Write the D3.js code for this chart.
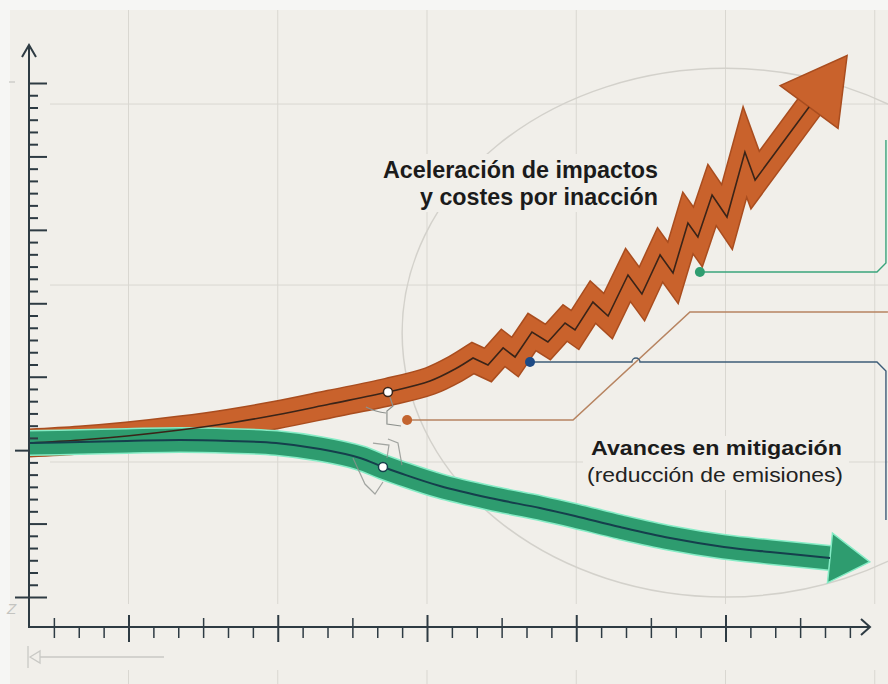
<!DOCTYPE html>
<html>
<head>
<meta charset="utf-8">
<script src="https://cdn.jsdelivr.net/npm/d3@7"></script>
<style>
html, body { margin: 0; padding: 0; background: #f6f6f4; }
svg { display: block; }
</style>
</head>
<body>
<svg id="chart" width="888" height="684"></svg>
<script>
// units: x = minor tick steps from the y axis, y = minor tick steps from the lowest long tick
var impactX = [0, 2.05, 3.94, 6.07, 8.08, 9.93, 12.10, 14.43, 16.12, 17.13, 17.85, 18.45, 19.06, 19.54, 20.22, 20.86, 21.55, 21.95, 22.67, 23.28, 24.08, 24.64, 25.37, 25.89, 26.49, 26.89, 27.46, 28.06, 28.78, 29.19, 31.36];
var impactY = [12.58, 12.83, 13.16, 13.65, 14.22, 14.87, 15.77, 16.75, 17.65, 18.63, 19.53, 18.96, 20.35, 19.61, 21.65, 20.84, 22.39, 21.82, 24.10, 22.96, 26.31, 24.76, 27.95, 26.48, 30.56, 29.42, 32.85, 31.05, 36.36, 34.07, 40.04];
var impactSmooth = 11;   // first points are a smooth curve, then the zigzag
var mitigX = [0, 2.05, 3.94, 6.07, 8.08, 9.93, 11.70, 13.31, 14.23, 14.91, 16.52, 18.53, 20.54, 21.95, 23.76, 25.77, 27.94, 29.79, 32.20];
var mitigY = [12.58, 12.67, 12.75, 12.83, 12.75, 12.58, 12.09, 11.36, 10.62, 10.13, 9.07, 8.09, 7.27, 6.62, 5.72, 4.82, 4.09, 3.68, 3.19];
var impactMarker = 7, mitigMarker = 8;

var impactLabel = ["Aceleración de impactos", "y costes por inacción"];
var mitigLabel = ["Avances en mitigación", "(reducción de emisiones)"];

// leader lines to the right edge
var noteBrown = [[15.20, 14.46], [21.87, 14.46], [26.57, 23.29], [34.53, 23.29]];
var noteBlue = [[20.14, 19.20], [34.09, 19.20], [34.45, 18.47], [34.45, 6.29]];
var noteGreen = [[26.97, 26.56], [34.09, 26.56], [34.45, 27.29], [34.45, 37.34]];
var hopX = 24.40;

var gridX = [4, 10, 16, 22, 28, 34];
var gridY = [40.28, 25.49, 11.03];
var xTickVals = d3.range(1, 34);
var yTickVals = d3.range(0, 43);
var halo = { cx: 28, cy: 21.6, rx: 13, ry: 21.6 };

var svg = d3.select("#chart");
var W = 888, H = 684;
var bg = "#f1efea", axisColor = "#2e3b43";

var x = d3.scaleLinear().domain([0, 34]).range([29, 874.75]);
var y = d3.scaleLinear().domain([0, 42]).range([597, 83]);

svg.append("rect").attr("x", 10).attr("y", 10).attr("width", W - 10).attr("height", H - 10).attr("fill", bg);

// grid
var grid = svg.append("g").attr("stroke", "#d9d7d1").attr("stroke-width", 1);
gridX.forEach(function(v) {
  grid.append("line").attr("x1", x(v)).attr("x2", x(v)).attr("y1", 10).attr("y2", 604);
  grid.append("line").attr("x1", x(v)).attr("x2", x(v)).attr("y1", 670).attr("y2", H);
});
gridY.forEach(function(v) {
  grid.append("line").attr("x1", 50).attr("x2", W).attr("y1", y(v)).attr("y2", y(v));
});

// big faint ellipse
svg.append("ellipse")
  .attr("cx", x(halo.cx)).attr("cy", y(halo.cy))
  .attr("rx", x(halo.cx + halo.rx) - x(halo.cx)).attr("ry", y(0) - y(halo.ry))
  .attr("fill", "none").attr("stroke", "#d3d1cb").attr("stroke-width", 1.5);

// text backgrounds hide grid behind labels
svg.append("rect").attr("x", 378).attr("y", 154).attr("width", 288).attr("height", 58).attr("fill", bg);
svg.append("rect").attr("x", 583).attr("y", 436).attr("width", 266).attr("height", 54).attr("fill", bg);

function arrowPaths(xs, ys, smoothN) {
  var pts = xs.map(function(v, i) { return [x(v), y(ys[i])]; });
  var n = smoothN || pts.length;
  var d = d3.line().curve(d3.curveCatmullRom)(pts.slice(0, n));
  if (n < pts.length) d += d3.line()(pts.slice(n - 1)).replace(/^M[^L]*/, "");
  return { d: d, pts: pts };
}

function headPoints(pts, len, hw) {
  var b = pts[pts.length - 1], p = pts[pts.length - 2];
  var dx = b[0] - p[0], dy = b[1] - p[1], l = Math.hypot(dx, dy);
  dx /= l; dy /= l;
  return [[b[0] + dx * len, b[1] + dy * len], [b[0] - dy * hw, b[1] + dx * hw], [b[0] + dy * hw, b[1] - dx * hw]];
}

var imp = arrowPaths(impactX, impactY, impactSmooth);
var mit = arrowPaths(mitigX, mitigY);

// orange band
svg.append("path").attr("d", imp.d).attr("fill", "none").attr("stroke", "#a94d1f")
  .attr("stroke-width", 29).attr("stroke-linejoin", "miter").attr("stroke-miterlimit", 10);
svg.append("path").attr("d", imp.d).attr("fill", "none").attr("stroke", "#c9622c")
  .attr("stroke-width", 26).attr("stroke-linejoin", "miter").attr("stroke-miterlimit", 10);
svg.append("polygon").attr("points", headPoints(imp.pts, 64, 36).join(" "))
  .attr("fill", "#c9622c").attr("stroke", "#a94d1f").attr("stroke-width", 1.5).attr("stroke-linejoin", "miter");

// green band
svg.append("path").attr("d", mit.d).attr("fill", "none").attr("stroke", "#86ecc6").attr("stroke-width", 26);
svg.append("path").attr("d", mit.d).attr("fill", "none").attr("stroke", "#2e9c6f").attr("stroke-width", 23);
svg.append("polygon").attr("points", headPoints(mit.pts, 40, 25).join(" "))
  .attr("fill", "#2e9c6f").attr("stroke", "#86ecc6").attr("stroke-width", 1.5);

// centre lines
svg.append("path").attr("d", imp.d).attr("fill", "none").attr("stroke", "#3a2418")
  .attr("stroke-width", 1.6).attr("stroke-linejoin", "miter");
svg.append("path").attr("d", mit.d).attr("fill", "none").attr("stroke", "#153f4c").attr("stroke-width", 2);

// small sketchy marks near the markers
var mi = imp.pts[impactMarker], mg = mit.pts[mitigMarker];
svg.append("path")
  .attr("d", "M" + (mi[0] - 22) + "," + (mi[1] + 15) + " q10,5 20,6 M" + (mi[0] + 2) + "," + (mi[1] + 5) +
    " l3,9 l-6,5 l0,13 l14,2")
  .attr("fill", "none").attr("stroke", "#8d918d").attr("stroke-width", 1.2);
svg.append("path")
  .attr("d", "M" + (mg[0] - 10) + "," + (mg[1] - 24) + " l16,2 l-2,13 M" + (mg[0] - 30) + "," + (mg[1] - 9) +
    " l12,26 l10,10 l8,-12 M" + (mg[0] + 5) + "," + (mg[1] - 28) + " l10,4 l4,22")
  .attr("fill", "none").attr("stroke", "#8d918d").attr("stroke-width", 1.2).attr("opacity", 0.8);

svg.append("circle").attr("cx", mi[0]).attr("cy", mi[1]).attr("r", 4.5)
  .attr("fill", "#ffffff").attr("stroke", "#3a2418").attr("stroke-width", 1.5);
svg.append("circle").attr("cx", mg[0]).attr("cy", mg[1]).attr("r", 4.5)
  .attr("fill", "#ffffff").attr("stroke", "#153f4c").attr("stroke-width", 1.5);

// leader lines
function notePath(pts) {
  return d3.line()(pts.map(function(p) { return [x(p[0]), y(p[1])]; }));
}
svg.append("path").attr("d", notePath(noteBrown)).attr("fill", "none").attr("stroke", "#b78461").attr("stroke-width", 1.6);
var blueD = notePath(noteBlue);
var hx = x(hopX), hy = y(noteBlue[0][1]);
blueD = "M" + x(noteBlue[0][0]) + "," + hy + "L" + (hx - 4) + "," + hy + "A4,4 0 0 1 " + (hx + 4) + "," + hy +
  blueD.replace(/^M[^L]*/, "");
svg.append("path").attr("d", blueD).attr("fill", "none").attr("stroke", "#3e5d78").attr("stroke-width", 1.4);
svg.append("path").attr("d", notePath(noteGreen)).attr("fill", "none").attr("stroke", "#3aa57c").attr("stroke-width", 1.4);

svg.append("circle").attr("cx", x(noteBrown[0][0])).attr("cy", y(noteBrown[0][1])).attr("r", 5).attr("fill", "#c3642f");
svg.append("circle").attr("cx", x(noteBlue[0][0])).attr("cy", y(noteBlue[0][1])).attr("r", 5).attr("fill", "#1d4a85");
svg.append("circle").attr("cx", x(noteGreen[0][0])).attr("cy", y(noteGreen[0][1])).attr("r", 5).attr("fill", "#2f9d70");

// labels
var font = "'Liberation Sans Narrow', 'Liberation Sans', Arial, sans-serif";
var t1 = svg.append("text").attr("text-anchor", "end")
  .attr("font-family", font).attr("font-size", 24).attr("font-weight", 700).attr("fill", "#1b1b1b");
t1.append("tspan").attr("x", 658).attr("y", 178)
  .attr("textLength", 275).attr("lengthAdjust", "spacingAndGlyphs").text(impactLabel[0]);
t1.append("tspan").attr("x", 658).attr("y", 205)
  .attr("textLength", 238).attr("lengthAdjust", "spacingAndGlyphs").text(impactLabel[1]);

var t2 = svg.append("text").attr("font-family", font).attr("font-size", 21).attr("fill", "#1b1b1b");
t2.append("tspan").attr("x", 591).attr("y", 455).attr("font-weight", 700)
  .attr("textLength", 251).attr("lengthAdjust", "spacingAndGlyphs").text(mitigLabel[0]);
t2.append("tspan").attr("x", 587).attr("y", 482).attr("font-weight", 400).attr("fill", "#222")
  .attr("textLength", 256).attr("lengthAdjust", "spacingAndGlyphs").text(mitigLabel[1]);

// axes
function ticks(axis, tx, ty, w) {
  var g = svg.append("g").attr("transform", "translate(" + tx + "," + ty + ")").attr("color", axisColor).call(axis);
  g.select(".domain").remove();
  g.selectAll(".tick line").attr("stroke-width", w);
  return g;
}
var isMajorX = function(v) { return (v - 4) % 6 === 0; };
var isMedX = function(v) { return (v - 1) % 6 === 0; };
ticks(d3.axisBottom(x).tickValues(xTickVals.filter(function(v) { return !isMajorX(v) && !isMedX(v); })).tickSize(11).tickFormat(""), 0, 627, 1.5);
ticks(d3.axisBottom(x).tickValues(xTickVals.filter(isMedX)).tickSize(20).tickFormat(""), 0, 618, 1.5);
ticks(d3.axisBottom(x).tickValues(xTickVals.filter(isMajorX)).tickSize(27).tickFormat(""), 0, 615, 2);

ticks(d3.axisRight(y).tickValues(yTickVals.filter(function(v) { return v % 6 !== 0; })).tickSize(9).tickFormat(""), 29, 0, 2);
ticks(d3.axisRight(y).tickValues(yTickVals.filter(function(v) { return v % 6 === 0 && v !== 0 && v !== 12; })).tickSize(18).tickFormat(""), 29, 0, 2);
ticks(d3.axisRight(y).tickValues([0]).tickSize(32).tickFormat(""), 15, 0, 2);
ticks(d3.axisRight(y).tickValues([12]).tickSize(14).tickFormat(""), 15, 0, 2);

var ax = svg.append("g").attr("stroke", axisColor).attr("fill", "none").attr("stroke-width", 2);
ax.append("line").attr("x1", x(0)).attr("x2", 869).attr("y1", 627).attr("y2", 627);
ax.append("line").attr("x1", x(0)).attr("x2", x(0)).attr("y1", 628).attr("y2", 46);
ax.append("path").attr("d", "M861,619 L870,627 L861,635");
ax.append("path").attr("d", "M22,57 L29,45 L36,57");

// faint marks off the chart
var faint = svg.append("g").attr("stroke", "#c9c9c5").attr("fill", "none").attr("stroke-width", 1.3);
faint.append("line").attr("x1", 28).attr("x2", 28).attr("y1", 646).attr("y2", 668);
faint.append("path").attr("d", "M30,657 L40,651 L40,663 Z");
faint.append("line").attr("x1", 40).attr("x2", 164).attr("y1", 657).attr("y2", 657);
faint.append("line").attr("x1", 9).attr("x2", 15).attr("y1", 82).attr("y2", 82);
svg.append("text").attr("x", 7).attr("y", 614).attr("font-family", font).attr("font-size", 15)
  .attr("font-style", "italic").attr("fill", "#c4c4c0").text("Z");
</script>
</body>
</html>
